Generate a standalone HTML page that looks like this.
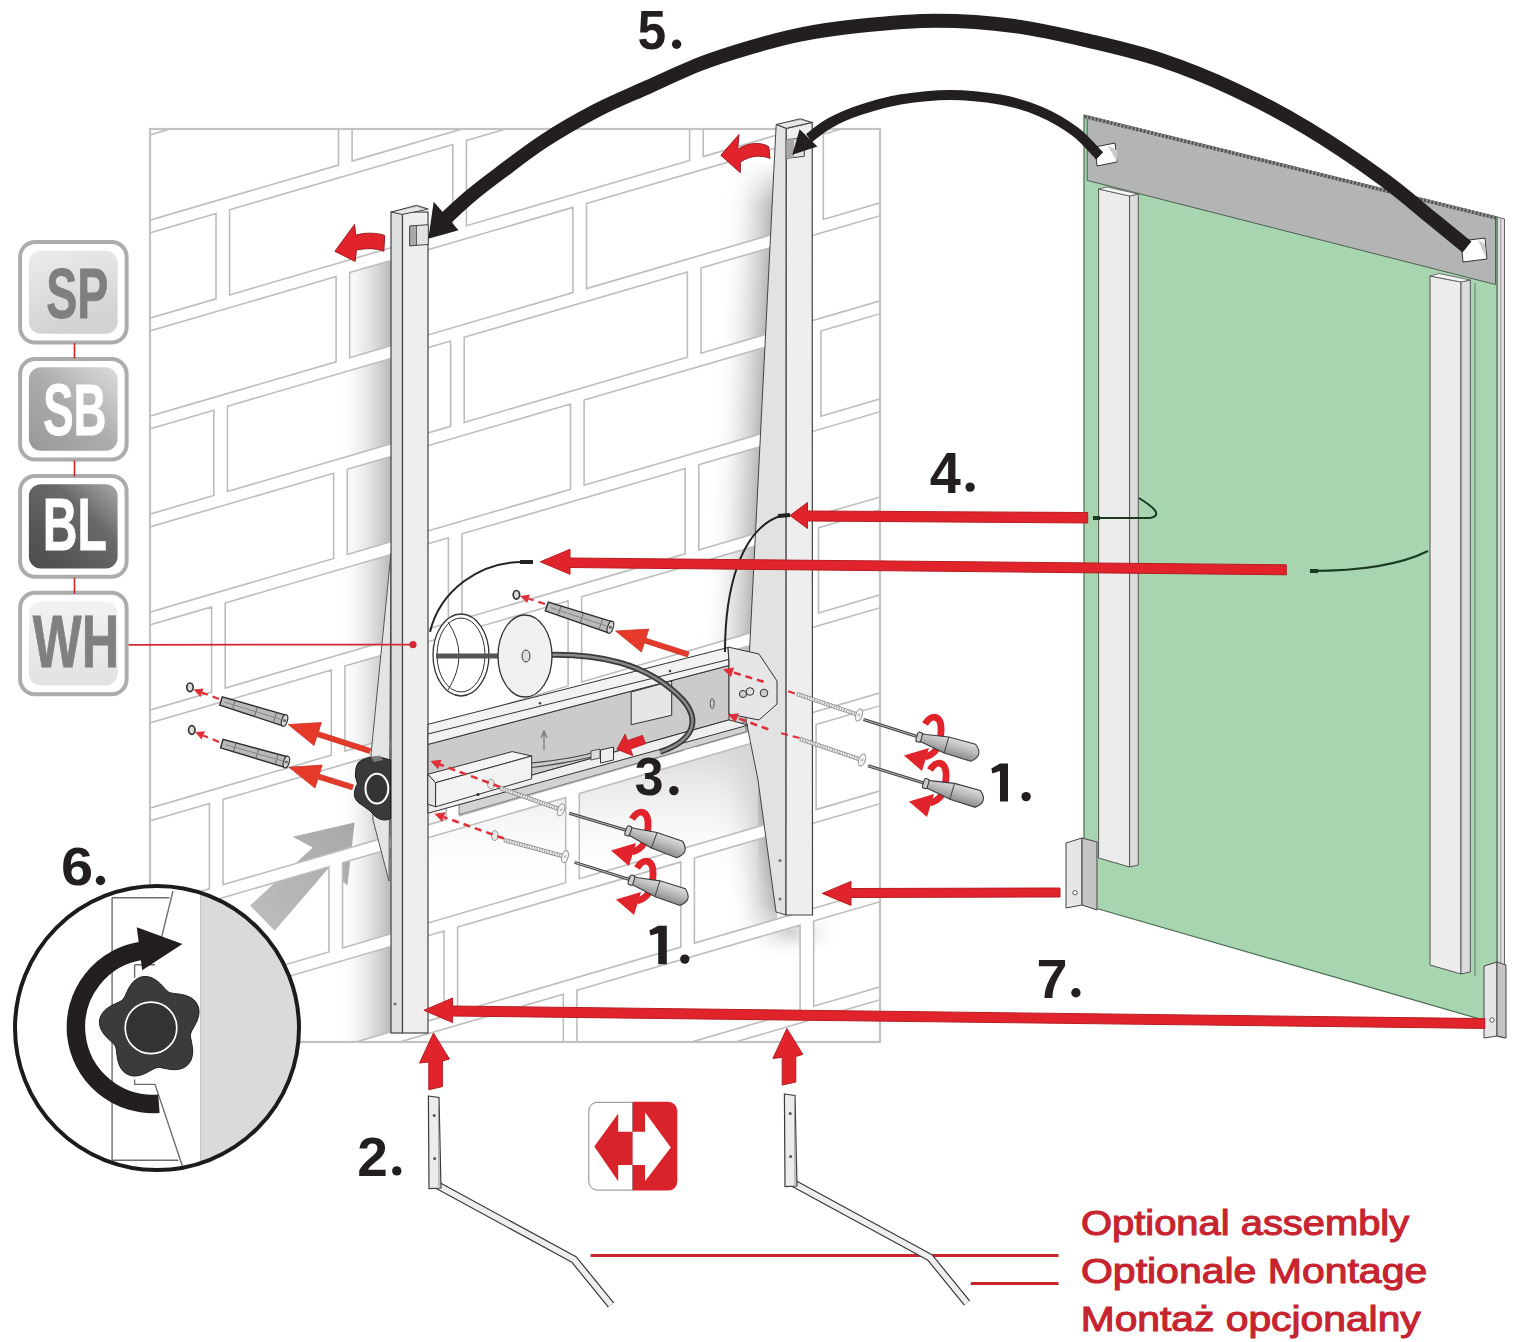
<!DOCTYPE html>
<html><head><meta charset="utf-8"><title>Assembly</title>
<style>html,body{margin:0;padding:0;background:#fff;}svg{display:block;font-family:"Liberation Sans",sans-serif;}</style>
</head><body>
<svg width="1540" height="1342" viewBox="0 0 1540 1342">
<defs><clipPath id="wallclip"><rect x="150" y="129" width="730" height="913"/></clipPath>
<clipPath id="brickclip"><path d="M117.7 -51.7L340.9 -116.8L340.9 -31.6L117.7 33.5ZM354.5 -120.8L577.7 -186.0L577.7 -100.8L354.5 -35.6ZM591.3 -190.0L814.5 -255.1L814.5 -169.9L591.3 -104.8ZM828.1 -259.1L1051.3 -324.3L1051.3 -239.1L828.1 -173.9ZM-5.0 82.2L218.2 17.0L218.2 102.2L-5.0 167.4ZM231.8 13.0L455.0 -52.2L455.0 33.0L231.8 98.2ZM468.6 -56.1L691.8 -121.3L691.8 -36.1L468.6 29.1ZM705.4 -125.3L928.6 -190.5L928.6 -105.3L705.4 -40.1ZM115.3 145.0L338.5 79.9L338.5 165.1L115.3 230.2ZM352.1 75.9L575.3 10.7L575.3 95.9L352.1 161.1ZM588.9 6.7L812.1 -58.4L812.1 26.8L588.9 91.9ZM825.7 -62.4L1048.9 -127.6L1048.9 -42.4L825.7 22.8ZM-7.2 278.8L216.0 213.6L216.0 298.8L-7.2 364.0ZM229.6 209.7L452.8 144.5L452.8 229.7L229.6 294.9ZM466.4 140.5L689.6 75.3L689.6 160.5L466.4 225.7ZM703.2 71.4L926.4 6.2L926.4 91.4L703.2 156.6ZM112.9 341.7L336.1 276.6L336.1 361.8L112.9 426.9ZM349.7 272.6L572.9 207.4L572.9 292.6L349.7 357.8ZM586.5 203.4L809.7 138.3L809.7 223.5L586.5 288.6ZM823.3 134.3L1046.5 69.1L1046.5 154.3L823.3 219.5ZM-9.4 475.4L213.8 410.3L213.8 495.5L-9.4 560.6ZM227.4 406.3L450.6 341.1L450.6 426.3L227.4 491.5ZM464.2 337.2L687.4 272.0L687.4 357.2L464.2 422.4ZM701.0 268.0L924.2 202.8L924.2 288.0L701.0 353.2ZM110.5 538.4L333.7 473.3L333.7 558.5L110.5 623.6ZM347.3 469.3L570.5 404.1L570.5 489.3L347.3 554.5ZM584.1 400.1L807.3 335.0L807.3 420.2L584.1 485.3ZM820.9 331.0L1044.1 265.8L1044.1 351.0L820.9 416.2ZM-11.6 672.1L211.6 606.9L211.6 692.1L-11.6 757.3ZM225.2 602.9L448.4 537.8L448.4 623.0L225.2 688.1ZM462.0 533.8L685.2 468.6L685.2 553.8L462.0 619.0ZM698.8 464.7L922.0 399.5L922.0 484.7L698.8 549.9ZM108.1 735.1L331.3 670.0L331.3 755.2L108.1 820.3ZM344.9 666.0L568.1 600.8L568.1 686.0L344.9 751.2ZM581.7 596.8L804.9 531.7L804.9 616.9L581.7 682.0ZM818.5 527.7L1041.7 462.5L1041.7 547.7L818.5 612.9ZM-13.8 868.7L209.4 803.6L209.4 888.8L-13.8 953.9ZM223.0 799.6L446.2 734.4L446.2 819.6L223.0 884.8ZM459.8 730.4L683.0 665.3L683.0 750.5L459.8 815.6ZM696.6 661.3L919.8 596.1L919.8 681.3L696.6 746.5ZM105.7 931.8L328.9 866.7L328.9 951.9L105.7 1017.0ZM342.5 862.7L565.7 797.5L565.7 882.7L342.5 947.9ZM579.3 793.5L802.5 728.4L802.5 813.6L579.3 878.7ZM816.1 724.4L1039.3 659.2L1039.3 744.4L816.1 809.6ZM-16.0 1065.4L207.2 1000.2L207.2 1085.4L-16.0 1150.6ZM220.8 996.2L444.0 931.1L444.0 1016.3L220.8 1081.4ZM457.6 927.1L680.8 861.9L680.8 947.1L457.6 1012.3ZM694.4 857.9L917.6 792.8L917.6 878.0L694.4 943.1ZM103.3 1128.5L326.5 1063.4L326.5 1148.6L103.3 1213.7ZM340.1 1059.4L563.3 994.2L563.3 1079.4L340.1 1144.6ZM576.9 990.2L800.1 925.1L800.1 1010.3L576.9 1075.4ZM813.7 921.1L1036.9 855.9L1036.9 941.1L813.7 1006.3ZM-18.2 1262.0L205.0 1196.8L205.0 1282.0L-18.2 1347.2ZM218.6 1192.9L441.8 1127.7L441.8 1212.9L218.6 1278.1ZM455.4 1123.7L678.6 1058.5L678.6 1143.7L455.4 1208.9ZM692.2 1054.6L915.4 989.4L915.4 1074.6L692.2 1139.8ZM100.9 1325.2L324.1 1260.1L324.1 1345.3L100.9 1410.4ZM337.7 1256.1L560.9 1190.9L560.9 1276.1L337.7 1341.3ZM574.5 1186.9L797.7 1121.8L797.7 1207.0L574.5 1272.1ZM811.3 1117.8L1034.5 1052.6L1034.5 1137.8L811.3 1203.0Z"/></clipPath>
<linearGradient id="shL" x1="0" x2="1" y1="0" y2="0"><stop offset="0" stop-color="#fff" stop-opacity="0"/><stop offset="0.35" stop-color="#f0f0f0" stop-opacity="0.6"/><stop offset="1" stop-color="#b4b4b4"/></linearGradient>
<linearGradient id="gR1" gradientUnits="userSpaceOnUse" x1="732" y1="0" x2="782.5" y2="0" gradientTransform="skewX(-2.9)"><stop offset="0" stop-color="#fff" stop-opacity="0"/><stop offset="0.4" stop-color="#eeeeee" stop-opacity="0.6"/><stop offset="1" stop-color="#b8b8b8"/></linearGradient>
<linearGradient id="gR2" gradientUnits="userSpaceOnUse" x1="585" y1="0" x2="633.7" y2="0" gradientTransform="skewX(8.87)"><stop offset="0" stop-color="#fff" stop-opacity="0"/><stop offset="0.4" stop-color="#eeeeee" stop-opacity="0.6"/><stop offset="1" stop-color="#b8b8b8"/></linearGradient>
<linearGradient id="gMR" gradientUnits="userSpaceOnUse" x1="0" y1="160" x2="0" y2="205"><stop offset="0" stop-color="#000"/><stop offset="1" stop-color="#fff"/></linearGradient>
<mask id="mR" maskUnits="userSpaceOnUse" x="600" y="100" width="300" height="900"><rect x="600" y="100" width="300" height="900" fill="url(#gMR)"/></mask>
<radialGradient id="gRad"><stop offset="0" stop-color="#d0d0d0"/><stop offset="1" stop-color="#fff" stop-opacity="0"/></radialGradient>
<linearGradient id="shD" x1="0" x2="0" y1="0" y2="1"><stop offset="0" stop-color="#d4d4d4"/><stop offset="1" stop-color="#fff" stop-opacity="0"/></linearGradient>
<linearGradient id="hdl" x1="0" x2="0" y1="0" y2="1"><stop offset="0" stop-color="#dedede"/><stop offset="0.5" stop-color="#b9b9b9"/><stop offset="1" stop-color="#8c8c8c"/></linearGradient>
<linearGradient id="gSP" x1="0" y1="0" x2="0.3" y2="1"><stop offset="0" stop-color="#ececec"/><stop offset="1" stop-color="#d2d2d2"/></linearGradient>
<linearGradient id="gSB" x1="1" y1="0" x2="0" y2="1"><stop offset="0" stop-color="#dcdcdc"/><stop offset="0.5" stop-color="#acacac"/><stop offset="1" stop-color="#989898"/></linearGradient>
<linearGradient id="gBL" x1="1" y1="0" x2="0" y2="1"><stop offset="0" stop-color="#a8a8a8"/><stop offset="0.35" stop-color="#6a6a6a"/><stop offset="1" stop-color="#4a4a4a"/></linearGradient>
<linearGradient id="gWH" x1="0" y1="0" x2="0" y2="1"><stop offset="0" stop-color="#f2f2f2"/><stop offset="1" stop-color="#e2e2e2"/></linearGradient>
<clipPath id="cc"><circle cx="157" cy="1028" r="142"/></clipPath>
<linearGradient id="gA" x1="0" y1="1" x2="1" y2="0"><stop offset="0" stop-color="#bebebe"/><stop offset="1" stop-color="#a8a8a8"/></linearGradient></defs>
<rect width="1540" height="1342" fill="#fff"/>
<rect x="150" y="129" width="730" height="913" fill="#fff"/>
<g clip-path="url(#wallclip)"><g clip-path="url(#brickclip)">
<rect x="335" y="258" width="58" height="790" fill="url(#shL)"/>
<path d="M700 158H779L747 720H690Z" fill="url(#gR1)" mask="url(#mR)"/><path d="M690 720H747L758 780L777 912V919L726 933H690Z" fill="url(#gR2)"/>
<rect x="428" y="740" width="330" height="150" fill="url(#shD)"/>
<ellipse cx="790" cy="932" rx="55" ry="28" fill="url(#gRad)"/>
<path d="M250.1 905.6L312.7 847.5L292.6 836.8L354.6 822.4L347.4 886L329.5 867L274.7 930.8Z" fill="url(#gA)"/>
</g>
<path d="M117.7 -51.7L340.9 -116.8L340.9 -31.6L117.7 33.5ZM354.5 -120.8L577.7 -186.0L577.7 -100.8L354.5 -35.6ZM591.3 -190.0L814.5 -255.1L814.5 -169.9L591.3 -104.8ZM828.1 -259.1L1051.3 -324.3L1051.3 -239.1L828.1 -173.9ZM-5.0 82.2L218.2 17.0L218.2 102.2L-5.0 167.4ZM231.8 13.0L455.0 -52.2L455.0 33.0L231.8 98.2ZM468.6 -56.1L691.8 -121.3L691.8 -36.1L468.6 29.1ZM705.4 -125.3L928.6 -190.5L928.6 -105.3L705.4 -40.1ZM115.3 145.0L338.5 79.9L338.5 165.1L115.3 230.2ZM352.1 75.9L575.3 10.7L575.3 95.9L352.1 161.1ZM588.9 6.7L812.1 -58.4L812.1 26.8L588.9 91.9ZM825.7 -62.4L1048.9 -127.6L1048.9 -42.4L825.7 22.8ZM-7.2 278.8L216.0 213.6L216.0 298.8L-7.2 364.0ZM229.6 209.7L452.8 144.5L452.8 229.7L229.6 294.9ZM466.4 140.5L689.6 75.3L689.6 160.5L466.4 225.7ZM703.2 71.4L926.4 6.2L926.4 91.4L703.2 156.6ZM112.9 341.7L336.1 276.6L336.1 361.8L112.9 426.9ZM349.7 272.6L572.9 207.4L572.9 292.6L349.7 357.8ZM586.5 203.4L809.7 138.3L809.7 223.5L586.5 288.6ZM823.3 134.3L1046.5 69.1L1046.5 154.3L823.3 219.5ZM-9.4 475.4L213.8 410.3L213.8 495.5L-9.4 560.6ZM227.4 406.3L450.6 341.1L450.6 426.3L227.4 491.5ZM464.2 337.2L687.4 272.0L687.4 357.2L464.2 422.4ZM701.0 268.0L924.2 202.8L924.2 288.0L701.0 353.2ZM110.5 538.4L333.7 473.3L333.7 558.5L110.5 623.6ZM347.3 469.3L570.5 404.1L570.5 489.3L347.3 554.5ZM584.1 400.1L807.3 335.0L807.3 420.2L584.1 485.3ZM820.9 331.0L1044.1 265.8L1044.1 351.0L820.9 416.2ZM-11.6 672.1L211.6 606.9L211.6 692.1L-11.6 757.3ZM225.2 602.9L448.4 537.8L448.4 623.0L225.2 688.1ZM462.0 533.8L685.2 468.6L685.2 553.8L462.0 619.0ZM698.8 464.7L922.0 399.5L922.0 484.7L698.8 549.9ZM108.1 735.1L331.3 670.0L331.3 755.2L108.1 820.3ZM344.9 666.0L568.1 600.8L568.1 686.0L344.9 751.2ZM581.7 596.8L804.9 531.7L804.9 616.9L581.7 682.0ZM818.5 527.7L1041.7 462.5L1041.7 547.7L818.5 612.9ZM-13.8 868.7L209.4 803.6L209.4 888.8L-13.8 953.9ZM223.0 799.6L446.2 734.4L446.2 819.6L223.0 884.8ZM459.8 730.4L683.0 665.3L683.0 750.5L459.8 815.6ZM696.6 661.3L919.8 596.1L919.8 681.3L696.6 746.5ZM105.7 931.8L328.9 866.7L328.9 951.9L105.7 1017.0ZM342.5 862.7L565.7 797.5L565.7 882.7L342.5 947.9ZM579.3 793.5L802.5 728.4L802.5 813.6L579.3 878.7ZM816.1 724.4L1039.3 659.2L1039.3 744.4L816.1 809.6ZM-16.0 1065.4L207.2 1000.2L207.2 1085.4L-16.0 1150.6ZM220.8 996.2L444.0 931.1L444.0 1016.3L220.8 1081.4ZM457.6 927.1L680.8 861.9L680.8 947.1L457.6 1012.3ZM694.4 857.9L917.6 792.8L917.6 878.0L694.4 943.1ZM103.3 1128.5L326.5 1063.4L326.5 1148.6L103.3 1213.7ZM340.1 1059.4L563.3 994.2L563.3 1079.4L340.1 1144.6ZM576.9 990.2L800.1 925.1L800.1 1010.3L576.9 1075.4ZM813.7 921.1L1036.9 855.9L1036.9 941.1L813.7 1006.3ZM-18.2 1262.0L205.0 1196.8L205.0 1282.0L-18.2 1347.2ZM218.6 1192.9L441.8 1127.7L441.8 1212.9L218.6 1278.1ZM455.4 1123.7L678.6 1058.5L678.6 1143.7L455.4 1208.9ZM692.2 1054.6L915.4 989.4L915.4 1074.6L692.2 1139.8ZM100.9 1325.2L324.1 1260.1L324.1 1345.3L100.9 1410.4ZM337.7 1256.1L560.9 1190.9L560.9 1276.1L337.7 1341.3ZM574.5 1186.9L797.7 1121.8L797.7 1207.0L574.5 1272.1ZM811.3 1117.8L1034.5 1052.6L1034.5 1137.8L811.3 1203.0Z" fill="none" stroke="#bdbdbd" stroke-width="1.6"/>
</g>
<rect x="150" y="129" width="730" height="913" fill="none" stroke="#c2c2c2" stroke-width="2.2"/>
<path d="M391 553L371 754L373 820L389 881Z" fill="#e4e4e4" stroke="#555" stroke-width="1"/>
<rect x="391" y="212" width="11.5" height="821" fill="#dedfdf" stroke="#444" stroke-width="1.2"/>
<rect x="402.5" y="212" width="25.5" height="821" fill="#eeeeee" stroke="#444" stroke-width="1.2"/>
<path d="M391.2 212L416.5 205.3L428.3 209L402.1 214.5Z" fill="#bdbdbd" stroke="#444" stroke-width="1"/>
<path d="M395 212L416.5 207L424 209.5L402.1 213.5Z" fill="#e8e8e8"/>
<path d="M409.7 226L428.3 224.7L428.3 244.5L409.7 245.8Z" fill="#e2e2e2" stroke="#444" stroke-width="1"/>
<path d="M409.7 226L416.5 225.5L416.5 245.3L409.7 245.8Z" fill="#a9a9a9" stroke="#444" stroke-width="0.8"/>
<circle cx="395" cy="1004" r="1.6" fill="#777"/>
<path d="M786.3 128.4L776.2 124.5L746 720L758 780L776 912L786 915Z" fill="#e2e2e2" stroke="#444" stroke-width="1"/>
<path d="M786.3 128.4L812.2 122.4L812.5 915L786 915Z" fill="#eeeeee" stroke="#444" stroke-width="1.2"/>
<path d="M776.2 124.5L800.2 118.8L812.2 122.4L786.3 128.4Z" fill="#bdbdbd" stroke="#444" stroke-width="1"/>
<path d="M779.5 124.5L800.2 120.3L808 122.6L786.3 127.2Z" fill="#e8e8e8"/>
<path d="M786.3 139.6L804.3 138L804.3 156.3L786.3 158.4Z" fill="#e2e2e2" stroke="#444" stroke-width="1"/>
<path d="M786.3 139.6L794 139L794 157.5L786.3 158.4Z" fill="#a9a9a9"/>
<circle cx="780" cy="860.6" r="1.6" fill="#777"/><circle cx="780" cy="899" r="1.6" fill="#777"/>
<path d="M459.0 804.7L746.0 721.8L746.0 731.8L459.0 814.7Z" fill="#d2d2d2" stroke="#666" stroke-width="0.8"/>
<path d="M428.0 744.4L729.0 665.5L729.0 719.9L428.0 804.2Z" fill="#cbcbcb" stroke="#333" stroke-width="1"/>
<path d="M428.0 724.3L728.0 647.5L729.0 665.5L428.0 744.4Z" fill="#f2f2f2" stroke="#333" stroke-width="1"/>
<path d="M428.0 734.0L729.0 659.4" stroke="#333" stroke-width="1"/>
<path d="M428.0 804.2L729.0 719.9L748.0 725.2L428.0 813.2Z" fill="#efefef" stroke="#333" stroke-width="1"/>
<path d="M631.2 692L671.7 681L671.7 715.3L631.2 724.7Z" fill="#e6e6e6" stroke="#333" stroke-width="1"/>
<circle cx="540" cy="703.2" r="1.3" fill="#444"/><circle cx="670" cy="671.0" r="1.3" fill="#444"/>
<path d="M728 647L759 654L777 681L777 704L759 720L729 714L729 661Z" fill="#e6e6e6" stroke="#333" stroke-width="1"/>
<circle cx="743" cy="694" r="3.6" fill="#ccc" stroke="#333"/><circle cx="750" cy="691.5" r="3.8" fill="#ddd" stroke="#333"/><circle cx="764" cy="693" r="3.8" fill="#ccc" stroke="#333"/>
<ellipse cx="712.2" cy="703.6" rx="2" ry="5" fill="none" stroke="#555"/>
<path d="M427.8 774.3L512.2 751.6L531.7 756L435.6 782.7Z" fill="#f4f4f4" stroke="#333" stroke-width="1"/>
<path d="M427.8 774.3L435.6 782.7L435.6 806.8L427.8 804.2Z" fill="#e4e4e4" stroke="#333" stroke-width="1"/>
<path d="M435.6 782.7L531.7 756L531.7 778.8L435.6 806.8Z" fill="#f2f2f2" stroke="#333" stroke-width="1"/>
<circle cx="478" cy="794.5" r="1.6" fill="#333"/>
<path d="M600.5 750L613.5 747L613.5 760L600.5 763Z" fill="#eee" stroke="#333"/>
<path d="M591 751L600 749L600 758L591 760Z" fill="#ddd" stroke="#333" stroke-width="0.8"/>
<path d="M531.7 763C560 760 575 758 591 753M531.7 767.5C560 764 575 761 591 757" stroke="#444" stroke-width="1.2" fill="none"/>
<path d="M541 738L544 731L547 738M544 731L544 750" stroke="#777" stroke-width="1.2" fill="none"/>
<path d="M525 656C600 650 650 665 683 700C700 720 695 740 660 752" stroke="#3a3a3a" stroke-width="6" fill="none"/>
<path d="M525 656C600 650 650 665 683 700C700 720 695 740 660 752" stroke="#8a8a8a" stroke-width="2.4" fill="none"/>
<ellipse cx="461" cy="655" rx="28" ry="41" fill="#fff" stroke="#333" stroke-width="1.3"/>
<ellipse cx="461" cy="655" rx="24" ry="37" fill="none" stroke="#333" stroke-width="1"/>
<path d="M448 622Q470 655 448 690" fill="none" stroke="#333" stroke-width="1"/>
<path d="M436 656L500 656" stroke="#555" stroke-width="5"/>
<ellipse cx="525" cy="656" rx="27" ry="41" fill="#f0f0f0" stroke="#333" stroke-width="1.3"/>
<ellipse cx="526" cy="656" rx="4" ry="6" fill="#ddd" stroke="#333"/>
<path d="M430 632C440 590 480 562 522 562" stroke="#222" stroke-width="2" fill="none"/>
<path d="M520 562L533 562" stroke="#222" stroke-width="4"/>
<path d="M725 652C725 590 740 530 780 516" stroke="#222" stroke-width="2" fill="none"/>
<path d="M778 516L790 515" stroke="#222" stroke-width="4"/>
<path d="M1497 217L1504.5 219L1504.5 1038L1497 1036Z" fill="#dedede" stroke="#666" stroke-width="1"/>
<path d="M1500.8 218L1500.8 1037" stroke="#888" stroke-width="0.8"/>
<path d="M1084 115L1497 217L1497 1024L1095 908L1084 905Z" fill="#a6d5b0" stroke="#4b6b52" stroke-width="1.2"/>
<path d="M1087.2 116L1495.5 217L1495.5 284.5L1087.2 180.4Z" fill="#b3b4b4" stroke="#4f5f52" stroke-width="1"/>
<path d="M1084.5 116.5L1496 218" stroke="#9a9a9a" stroke-width="3.4"/>
<path d="M1084.5 116.5L1496 218" stroke="#555" stroke-width="3.4" stroke-dasharray="2.2 1.6"/>
<path d="M1095 147L1115 143L1117 162L1097 166Z" fill="#fff" stroke="#333" stroke-width="1"/>
<path d="M1461 241L1485 238L1487 259L1463 262Z" fill="#fff" stroke="#333" stroke-width="1"/>
<path d="M1108 146L1117 150L1117 162Z" fill="#ccc"/><path d="M1478 240L1485 244L1486 258Z" fill="#ccc"/>
<path d="M1098.6 189L1129.6 196L1129.6 867L1098.6 858Z" fill="#ececec" stroke="#555" stroke-width="1"/>
<path d="M1129.6 196L1138.3 194L1138.3 865L1129.6 867Z" fill="#dcdcdc" stroke="#555" stroke-width="1"/>
<path d="M1098.6 189L1107 187L1138.3 194L1129.6 196Z" fill="#f6f6f6" stroke="#555" stroke-width="0.8"/>
<path d="M1430 276L1461 282L1461 974L1430 965Z" fill="#ececec" stroke="#555" stroke-width="1"/>
<path d="M1461 282L1470.3 280L1470.3 972L1461 974Z" fill="#dcdcdc" stroke="#555" stroke-width="1"/>
<path d="M1430 276L1439 273.5L1470.3 280L1461 282Z" fill="#f6f6f6" stroke="#555" stroke-width="0.8"/>
<path d="M1475 283L1475 976" stroke="#777" stroke-width="1"/>
<path d="M1066 843L1082 838L1082 905L1066 908Z" fill="#e6e6e6" stroke="#444" stroke-width="1"/>
<path d="M1082 838L1097 842L1097 910L1082 905Z" fill="#c4c4c4" stroke="#444" stroke-width="1"/>
<circle cx="1075" cy="892.7" r="2.2" fill="#fff" stroke="#333" stroke-width="0.8"/>
<path d="M1484 966L1497 962L1497 1036L1484 1038Z" fill="#e6e6e6" stroke="#444" stroke-width="1"/>
<path d="M1497 962L1506 965L1506 1038L1497 1036Z" fill="#c4c4c4" stroke="#444" stroke-width="1"/>
<circle cx="1492" cy="1020" r="2.2" fill="#fff" stroke="#333" stroke-width="0.8"/>
<path d="M1093 518L1150 518C1165 515 1150 505 1139 498" stroke="#1a3a22" stroke-width="2" fill="none"/>
<path d="M1093 518L1100 518" stroke="#1a3a22" stroke-width="4"/>
<path d="M1310 571C1360 571 1400 565 1428 551" stroke="#1a3a22" stroke-width="2" fill="none"/>
<path d="M1310 571L1318 571" stroke="#1a3a22" stroke-width="4"/>
<path d="M790.0 515.5L807.5 502.5L807.5 511.0L1087.7 512.5L1087.7 523.0L807.5 521.0L807.5 528.5Z" fill="#e1242b" stroke="#b51d23" stroke-width="1" stroke-linejoin="miter"/>
<path d="M540.3 561.8L570.0 549.3L570.0 558.0L1286.3 564.8L1286.3 574.8L570.0 567.5L570.0 574.3Z" fill="#e1242b" stroke="#b51d23" stroke-width="1" stroke-linejoin="miter"/>
<path d="M822.3 893.4L851.0 881.4L851.0 888.5L1060.0 888.0L1060.0 897.0L851.0 897.5L851.0 905.4Z" fill="#e1242b" stroke="#b51d23" stroke-width="1" stroke-linejoin="miter"/>
<path d="M423.9 1010.3L452.6 998.0L452.6 1006.0L1484.8 1018.6L1484.8 1028.4L452.6 1016.0L452.6 1022.6Z" fill="#e1242b" stroke="#b51d23" stroke-width="1" stroke-linejoin="miter"/>
<path d="M433.5 1033.0L449.4 1059.0L442.4 1061.0L442.4 1086.6L428.8 1089.7L428.8 1062.0L419.5 1063.0Z" fill="#e1242b" stroke="#b51d23" stroke-width="1"/>
<path d="M786.9 1028.4L802.8 1054.4L795.8 1056.4L795.8 1082.0L782.2 1085.1L782.2 1057.4L772.9 1058.4Z" fill="#e1242b" stroke="#b51d23" stroke-width="1"/>
<path d="M1467.0 247.0C1461.0 242.1 1445.2 229.1 1431.0 217.6C1416.8 206.1 1402.5 193.0 1382.0 178.2C1361.5 163.4 1332.7 143.6 1308.0 128.8C1283.3 114.0 1258.7 100.8 1234.0 89.3C1209.3 77.8 1183.7 67.7 1160.0 59.7C1136.3 51.8 1116.3 47.2 1092.0 41.6C1067.7 36.0 1040.0 29.5 1014.0 26.0C988.0 22.5 962.0 20.8 936.0 20.8C910.0 20.8 880.7 23.7 858.0 26.0C835.3 28.3 818.0 31.0 800.0 34.6C782.0 38.2 766.7 42.6 750.0 47.5C733.3 52.4 717.0 57.4 700.0 64.0C683.0 70.6 665.3 79.2 648.0 87.0C630.7 94.8 613.3 101.8 596.0 110.8C578.7 119.8 560.0 130.6 544.0 141.0C528.0 151.4 512.3 163.8 500.0 173.0C487.7 182.2 479.1 188.7 470.0 196.3C460.9 203.9 449.6 214.8 445.5 218.5" fill="none" stroke="#231f20" stroke-width="14"/>
<path d="M428.3 238.8L433.7 201.7L458.6 230.3Z" fill="#231f20"/>
<path d="M1099.6 155.8C1095.5 151.8 1084.9 138.9 1075.0 131.5C1065.1 124.1 1052.5 116.6 1040.0 111.3C1027.5 106.0 1015.0 102.2 1000.0 99.5C985.0 96.8 966.7 94.9 950.0 94.9C933.3 94.9 915.0 97.0 900.0 99.5C885.0 102.0 871.7 106.2 860.0 110.1C848.3 114.0 838.5 118.3 830.0 123.0C821.5 127.7 812.5 135.5 809.0 138.0" fill="none" stroke="#231f20" stroke-width="10"/>
<path d="M792.3 154.8L799.6 129.2L817.4 146.4Z" fill="#231f20"/>
<path d="M384.7 235.5C378 233 366 232 355.8 235.2L354.6 224.4L334.9 251.3L355.2 261.4L356.4 250.1C366 248 376 248 383.8 251.3Z" fill="#e3232b" stroke="#9c1b1f" stroke-width="1"/>
<path d="M768.8 146.8C762 142 748 142 737.7 149.4L739 134.5L720.8 155.3L740.3 172.7L740.3 162.3C750 155 762 155 770 158.4Z" fill="#e3232b" stroke="#9c1b1f" stroke-width="1"/>
<ellipse cx="190.0" cy="687.3" rx="3.2" ry="4.3" fill="#ddd" stroke="#333" stroke-width="1.7"/>
<ellipse cx="191.8" cy="730.0" rx="3.2" ry="4.3" fill="#ddd" stroke="#333" stroke-width="1.7"/>
<ellipse cx="516.4" cy="594.8" rx="3.2" ry="4.3" fill="#ddd" stroke="#333" stroke-width="1.7"/>
<path d="M219.0 699.0L201.9 692.6" stroke="#e0303a" stroke-width="2.2" stroke-dasharray="7 5" fill="none"/><path d="M193.5 689.5L203.5 688.4L200.4 696.9Z" fill="#e0303a"/>
<path d="M219.0 742.0L203.3 735.5" stroke="#e0303a" stroke-width="2.2" stroke-dasharray="7 5" fill="none"/><path d="M195.0 732.0L205.0 731.3L201.6 739.6Z" fill="#e0303a"/>
<path d="M545.0 604.0L528.6 598.7" stroke="#e0303a" stroke-width="2.2" stroke-dasharray="7 5" fill="none"/><path d="M520.0 596.0L529.9 594.5L527.2 603.0Z" fill="#e0303a"/>
<path d="M219.7 705.2L282.9 725.8L286.1 715.2L222.3 696.8Z" fill="#b9b9b9" stroke="#2a2a2a" stroke-width="1.4"/><path d="M232.1 710.2L235.3 699.6" stroke="#555" stroke-width="0.8"/><path d="M254.3 717.0L257.5 706.5" stroke="#555" stroke-width="0.8"/><path d="M273.4 722.8L276.6 712.3" stroke="#555" stroke-width="0.8"/><path d="M224.8 702.2L280.7 719.3" stroke="#888" stroke-width="1"/><ellipse cx="284.5" cy="720.5" rx="2.8" ry="6.0" transform="rotate(17.1 284.5 720.5)" fill="#d8d8d8" stroke="#333" stroke-width="1.2"/><circle cx="284.5" cy="720.5" r="1.5" fill="#666"/>
<path d="M220.6 747.8L284.9 767.3L287.9 756.7L223.0 739.4Z" fill="#b9b9b9" stroke="#2a2a2a" stroke-width="1.4"/><path d="M233.2 752.6L236.2 742.0" stroke="#555" stroke-width="0.8"/><path d="M255.8 759.0L258.8 748.4" stroke="#555" stroke-width="0.8"/><path d="M275.2 764.5L278.2 754.0" stroke="#555" stroke-width="0.8"/><path d="M225.6 744.7L282.6 760.9" stroke="#888" stroke-width="1"/><ellipse cx="286.4" cy="762.0" rx="2.8" ry="6.0" transform="rotate(15.9 286.4 762.0)" fill="#d8d8d8" stroke="#333" stroke-width="1.2"/><circle cx="286.4" cy="762.0" r="1.5" fill="#666"/>
<path d="M545.3 610.9L608.6 632.9L612.2 621.7L548.3 602.1Z" fill="#b9b9b9" stroke="#2a2a2a" stroke-width="1.4"/><path d="M557.7 616.2L561.3 605.1" stroke="#555" stroke-width="0.8"/><path d="M580.0 623.5L583.6 612.4" stroke="#555" stroke-width="0.8"/><path d="M599.0 629.7L602.7 618.6" stroke="#555" stroke-width="0.8"/><path d="M550.6 607.7L606.6 626.1" stroke="#888" stroke-width="1"/><ellipse cx="610.4" cy="627.3" rx="2.8" ry="6.3" transform="rotate(18.1 610.4 627.3)" fill="#d8d8d8" stroke="#333" stroke-width="1.2"/><circle cx="610.4" cy="627.3" r="1.5" fill="#666"/>
<path d="M370.8 748.6L318.5 731.7L321.4 722.6L288.2 724.5L314.0 745.5L316.9 736.4L369.2 753.4Z" fill="#e53a2a" stroke="#c8352a" stroke-width="0.8" />
<path d="M353.4 784.9L319.3 774.2L322.2 765.1L289.0 767.3L315.0 788.0L317.8 779.0L352.0 789.7Z" fill="#e53a2a" stroke="#c8352a" stroke-width="0.8" />
<path d="M689.1 652.1L645.9 638.2L648.8 629.1L615.6 631.0L641.4 652.0L644.3 642.9L687.5 656.9Z" fill="#e53a2a" stroke="#c8352a" stroke-width="0.8" />
<path d="M362 760Q374 754 390.6 760L390.6 818.7Q383 822 376 817Q370 810 362 805Q353 800 354.5 792Q355 787 357.5 784Q354 776 356 768Q357 762 362 760Z" fill="#3a3a3c" stroke="#1e1e1e" stroke-width="1"/>
<path d="M371 757.5L380 755.5L383 760L374 762Z" fill="#7a7a7a"/>
<ellipse cx="376.9" cy="788.6" rx="11.4" ry="14.8" fill="#343436" stroke="#fff" stroke-width="2"/>
<path d="M797.0 694.0L859.0 715.0" stroke="#8a8a8a" stroke-width="4.4"/><path d="M797.0 694.0L859.0 715.0" stroke="#f2f2f2" stroke-width="2.6"/><path d="M797.0 694.0L859.0 715.0" stroke="#999" stroke-width="2.6" stroke-dasharray="1 1.6"/><ellipse cx="859.0" cy="715.0" rx="3.2" ry="6.2" transform="rotate(18.7 859.0 715.0)" fill="#f4f4f4" stroke="#999" stroke-width="1.1"/><path d="M857.5 716.5l3 -3M860.0 716.0l-2 -2" stroke="#aaa" stroke-width="0.9"/>
<path d="M800.0 739.0L862.0 760.0" stroke="#8a8a8a" stroke-width="4.4"/><path d="M800.0 739.0L862.0 760.0" stroke="#f2f2f2" stroke-width="2.6"/><path d="M800.0 739.0L862.0 760.0" stroke="#999" stroke-width="2.6" stroke-dasharray="1 1.6"/><ellipse cx="862.0" cy="760.0" rx="3.2" ry="6.2" transform="rotate(18.7 862.0 760.0)" fill="#f4f4f4" stroke="#999" stroke-width="1.1"/><path d="M860.5 761.5l3 -3M863.0 761.0l-2 -2" stroke="#aaa" stroke-width="0.9"/>
<path d="M794.8 693.5L786.1 690.5" stroke="#e0303a" stroke-width="2.2" stroke-dasharray="7 5" fill="none"/><path d="M786.0 690.5L786.1 690.5L786.1 690.6Z" fill="#e0303a"/>
<path d="M799.5 738.0L780.9 733.2" stroke="#e0303a" stroke-width="2.2" stroke-dasharray="7 5" fill="none"/><path d="M780.8 733.2L780.9 733.2L780.9 733.3Z" fill="#e0303a"/>
<path d="M925.0 724.0C932.0 713.0 942.0 715.0 941.0 732.0C940.0 748.0 935.0 754.0 925.0 757.0" stroke="#e1242b" stroke-width="6.8" fill="none"/><path d="M904.0 755.5L929.0 748.0L922.0 771.0Z" fill="#e1242b"/>
<path d="M863.5 719.5L918.7 737.0" stroke="#444" stroke-width="3"/><path d="M863.5 719.5L918.7 737.0" stroke="#bbb" stroke-width="1"/><g transform="translate(918.7 737.0) rotate(16.1)"><path d="M0 -4L6.4 -4.5L28.9 -8.3L56.6 -8.8Q68.2 0 56.6 8.8L28.9 8.3L6.4 4.5L0 4Z" fill="url(#hdl)" stroke="#3a3a3a" stroke-width="1.1"/><rect x="-2" y="-5" width="5" height="10" rx="2" fill="#ccc" stroke="#333" stroke-width="1"/><path d="M28.9 -8.3L28.9 8.3" stroke="#444" stroke-width="1"/></g>
<path d="M930.0 770.0C937.0 759.0 947.0 761.0 946.0 778.0C945.0 794.0 940.0 800.0 930.0 803.0" stroke="#e1242b" stroke-width="6.8" fill="none"/><path d="M909.0 801.5L934.0 794.0L927.0 817.0Z" fill="#e1242b"/>
<path d="M868.0 765.8L925.3 783.5" stroke="#444" stroke-width="3"/><path d="M868.0 765.8L925.3 783.5" stroke="#bbb" stroke-width="1"/><g transform="translate(925.3 783.5) rotate(16.3)"><path d="M0 -4L6.2 -4.5L28.0 -8.3L54.7 -8.8Q65.9 0 54.7 8.8L28.0 8.3L6.2 4.5L0 4Z" fill="url(#hdl)" stroke="#3a3a3a" stroke-width="1.1"/><rect x="-2" y="-5" width="5" height="10" rx="2" fill="#ccc" stroke="#333" stroke-width="1"/><path d="M28.0 -8.3L28.0 8.3" stroke="#444" stroke-width="1"/></g>
<ellipse cx="490.9" cy="784" rx="3.3" ry="5" fill="#e8e8e8" stroke="#999" stroke-width="1"/><ellipse cx="494.8" cy="835.5" rx="3.3" ry="5" fill="#e8e8e8" stroke="#999" stroke-width="1"/>
<path d="M500.0 788.0L561.0 809.8" stroke="#8a8a8a" stroke-width="4.4"/><path d="M500.0 788.0L561.0 809.8" stroke="#f2f2f2" stroke-width="2.6"/><path d="M500.0 788.0L561.0 809.8" stroke="#999" stroke-width="2.6" stroke-dasharray="1 1.6"/><ellipse cx="561.0" cy="809.8" rx="3.2" ry="6.2" transform="rotate(19.7 561.0 809.8)" fill="#f4f4f4" stroke="#999" stroke-width="1.1"/><path d="M559.5 811.3l3 -3M562.0 810.8l-2 -2" stroke="#aaa" stroke-width="0.9"/>
<path d="M504.0 840.0L565.0 856.6" stroke="#8a8a8a" stroke-width="4.4"/><path d="M504.0 840.0L565.0 856.6" stroke="#f2f2f2" stroke-width="2.6"/><path d="M504.0 840.0L565.0 856.6" stroke="#999" stroke-width="2.6" stroke-dasharray="1 1.6"/><ellipse cx="565.0" cy="856.6" rx="3.2" ry="6.2" transform="rotate(15.2 565.0 856.6)" fill="#f4f4f4" stroke="#999" stroke-width="1.1"/><path d="M563.5 858.1l3 -3M566.0 857.6l-2 -2" stroke="#aaa" stroke-width="0.9"/>
<path d="M632.0 819.0C639.0 808.0 649.0 810.0 648.0 827.0C647.0 843.0 642.0 849.0 632.0 852.0" stroke="#e1242b" stroke-width="6.8" fill="none"/><path d="M611.0 850.5L636.0 843.0L629.0 866.0Z" fill="#e1242b"/>
<path d="M569.2 813.3L627.8 830.7" stroke="#444" stroke-width="3"/><path d="M569.2 813.3L627.8 830.7" stroke="#bbb" stroke-width="1"/><g transform="translate(627.8 830.7) rotate(19.9)"><path d="M0 -4L6.2 -4.5L28.1 -8.3L55.0 -8.8Q66.2 0 55.0 8.8L28.1 8.3L6.2 4.5L0 4Z" fill="url(#hdl)" stroke="#3a3a3a" stroke-width="1.1"/><rect x="-2" y="-5" width="5" height="10" rx="2" fill="#ccc" stroke="#333" stroke-width="1"/><path d="M28.1 -8.3L28.1 8.3" stroke="#444" stroke-width="1"/></g>
<path d="M637.0 868.0C644.0 857.0 654.0 859.0 653.0 876.0C652.0 892.0 647.0 898.0 637.0 901.0" stroke="#e1242b" stroke-width="6.8" fill="none"/><path d="M616.0 899.5L641.0 892.0L634.0 915.0Z" fill="#e1242b"/>
<path d="M574.6 862.4L631.0 880.0" stroke="#444" stroke-width="3"/><path d="M574.6 862.4L631.0 880.0" stroke="#bbb" stroke-width="1"/><g transform="translate(631.0 880.0) rotate(18.3)"><path d="M0 -4L6.2 -4.5L27.8 -8.3L54.3 -8.8Q65.4 0 54.3 8.8L27.8 8.3L6.2 4.5L0 4Z" fill="url(#hdl)" stroke="#3a3a3a" stroke-width="1.1"/><rect x="-2" y="-5" width="5" height="10" rx="2" fill="#ccc" stroke="#333" stroke-width="1"/><path d="M27.8 -8.3L27.8 8.3" stroke="#444" stroke-width="1"/></g>
<path d="M763.6 681.8L732.6 672.2" stroke="#e0303a" stroke-width="2.6" stroke-dasharray="7 5" fill="none"/><path d="M723.0 669.3L734.0 667.5L731.1 677.0Z" fill="#e0303a"/>
<path d="M768.3 729.3L737.2 717.9" stroke="#e0303a" stroke-width="2.6" stroke-dasharray="7 5" fill="none"/><path d="M727.8 714.5L738.9 713.2L735.5 722.6Z" fill="#e0303a"/>
<path d="M500.0 787.0L439.9 764.5" stroke="#e0303a" stroke-width="2.6" stroke-dasharray="7 5" fill="none"/><path d="M430.5 761.0L441.6 759.8L438.1 769.2Z" fill="#e0303a"/>
<path d="M504.0 838.5L443.8 817.1" stroke="#e0303a" stroke-width="2.6" stroke-dasharray="7 5" fill="none"/><path d="M434.4 813.7L445.5 812.3L442.1 821.8Z" fill="#e0303a"/>
<path d="M642.5 735.3L627.5 740.7L625.1 734.1L616.8 749.3L632.9 755.7L630.6 749.1L645.5 743.7Z" fill="#e1242b" stroke="#b51d23" stroke-width="0.8" />
<rect x="20.1" y="241.9" width="106.5" height="100.7" rx="15" fill="#fff" stroke="#acacac" stroke-width="4"/>
<rect x="28.9" y="250.7" width="88.7" height="83.1" rx="12" fill="url(#gSP)"/>
<text transform="translate(46.25 317.97) scale(0.663 1)" font-family="Liberation Sans" font-weight="bold" font-size="70.16" fill="#7f7f7f" stroke="#7f7f7f" stroke-width="0.8">SP</text>
<rect x="20.1" y="358.9" width="106.5" height="100.7" rx="15" fill="#fff" stroke="#acacac" stroke-width="4"/>
<rect x="28.9" y="367.2" width="88.7" height="83.6" rx="12" fill="url(#gSB)"/>
<text transform="translate(43.18 434.55) scale(0.632 1)" font-family="Liberation Sans" font-weight="bold" font-size="72.14" fill="#ffffff" stroke="#ffffff" stroke-width="0.8">SB</text>
<rect x="20.1" y="476.0" width="106.5" height="100.7" rx="15" fill="#fff" stroke="#acacac" stroke-width="4"/>
<rect x="28.9" y="484.3" width="88.7" height="84.1" rx="12" fill="url(#gBL)"/>
<text transform="translate(42.67 550.07) scale(0.655 1)" font-family="Liberation Sans" font-weight="bold" font-size="73.51" fill="#ffffff" stroke="#ffffff" stroke-width="0.8">BL</text>
<rect x="20.1" y="592.7" width="106.5" height="101.5" rx="15" fill="#fff" stroke="#acacac" stroke-width="4"/>
<rect x="28.9" y="601.4" width="88.7" height="84.1" rx="12" fill="url(#gWH)"/>
<text transform="translate(32.85 667.27) scale(0.703 1)" font-family="Liberation Sans" font-weight="bold" font-size="73.65" fill="#808080" stroke="#808080" stroke-width="0.8">WH</text>
<path d="M74.5 343V358.6M74.5 460.4V476.4M74.5 577.8V593.8" stroke="#c9252c" stroke-width="1.6"/>
<path d="M128.6 644.8L413 644.6" stroke="#d22a32" stroke-width="1.8"/>
<circle cx="413" cy="644.6" r="3.6" fill="#d22a32"/>
<circle cx="157" cy="1028" r="142" fill="#fff"/>
<g clip-path="url(#cc)">
<rect x="200.7" y="880" width="110" height="300" fill="#d9dadb"/>
<path d="M173 891L161 939.4M112.1 897.8V1160.2M112.1 897.8H169.5M112.1 1160.2H178.4M134.6 1079.5V1084.4H155L182.4 1166M134.6 964.8V978M134.6 964.8H155" fill="none" stroke="#6f6f6f" stroke-width="1.4"/>
<path d="M200.7 880V1180" stroke="#bdbdbd" stroke-width="1"/>
</g>
<circle cx="157" cy="1028" r="142" fill="none" stroke="#1c1c1c" stroke-width="4"/>
<path d="M142.8 950.7A77 77 0 0 0 158.9 1103.8" fill="none" stroke="#231f20" stroke-width="18.5"/>
<path d="M136.8 927.3L182.4 944L142.2 970.2Z" fill="#231f20"/>
<path d="M142.9 976.6L145.6 976.5L148.3 976.8L151.0 977.5L153.6 978.7L156.0 980.2L158.3 981.9L160.4 983.8L162.3 985.8L164.1 987.7L165.8 989.5L167.4 991.1L169.2 992.4L171.2 993.0L173.4 993.4L175.9 993.7L178.5 994.0L181.2 994.4L184.0 995.0L186.7 995.8L189.4 996.9L191.8 998.3L194.0 1000.1L195.9 1002.1L197.3 1004.4L198.3 1006.9L198.9 1009.6L199.0 1012.4L198.7 1015.2L198.0 1018.0L197.1 1020.7L195.9 1023.3L194.6 1025.7L193.3 1028.0L192.1 1030.2L191.2 1032.2L190.5 1034.3L190.5 1036.4L190.8 1038.7L191.3 1041.1L191.8 1043.7L192.3 1046.4L192.6 1049.2L192.7 1052.0L192.4 1054.9L191.8 1057.7L190.9 1060.3L189.5 1062.7L187.8 1064.8L185.7 1066.5L183.3 1067.9L180.7 1068.8L177.9 1069.4L175.0 1069.7L172.2 1069.6L169.4 1069.3L166.7 1068.8L164.1 1068.3L161.7 1067.8L159.4 1067.5L157.3 1067.5L155.2 1068.2L153.2 1069.1L151.0 1070.3L148.7 1071.6L146.3 1072.9L143.7 1074.1L141.0 1075.0L138.2 1075.7L135.4 1076.0L132.6 1075.9L129.9 1075.3L127.4 1074.3L125.1 1072.9L123.1 1071.0L121.3 1068.8L119.9 1066.4L118.8 1063.7L118.0 1061.0L117.4 1058.2L117.0 1055.5L116.7 1052.9L116.4 1050.4L116.0 1048.2L115.4 1046.2L114.1 1044.4L112.5 1042.8L110.7 1041.1L108.8 1039.3L106.8 1037.4L104.9 1035.3L103.2 1033.0L101.7 1030.6L100.5 1028.0L99.8 1025.3L99.5 1022.6L99.6 1019.9L100.3 1017.2L101.4 1014.7L103.0 1012.4L104.9 1010.3L107.1 1008.4L109.4 1006.8L111.9 1005.4L114.4 1004.2L116.7 1003.1L119.0 1002.1L121.0 1001.0L122.7 999.7L124.0 998.0L125.1 996.0L126.1 993.7L127.2 991.4L128.4 988.9L129.8 986.4L131.4 984.1L133.3 981.9L135.4 980.0L137.7 978.4L140.2 977.3Z" fill="#3b3b3d" stroke="#1e1e1e" stroke-width="1"/>
<circle cx="151" cy="1027.9" r="25.8" fill="#333335" stroke="#fff" stroke-width="1.7"/>
<path d="M590.6 1255.5H1058.5M970.8 1283.5H1058.5" stroke="#c9252c" stroke-width="3"/>
<path d="M437.0 1185.0L574.0 1259.5L611.0 1305.0" fill="none" stroke="#3a3a3a" stroke-width="8" stroke-linejoin="round"/><path d="M437.0 1185.0L574.0 1259.5L611.0 1305.0" fill="none" stroke="#eeeeee" stroke-width="5.6" stroke-linejoin="round"/><path d="M428.4 1096.0L439.0 1097.5L441.0 1188.0L429.0 1188.5Z" fill="#ececec" stroke="#3a3a3a" stroke-width="1.2"/><path d="M438.5 1098.0L439.0 1187.0" stroke="#999" stroke-width="1"/><circle cx="434.2" cy="1115.4" r="1.5" fill="#555"/><circle cx="434.7" cy="1158.4" r="1.5" fill="#555"/>
<path d="M793.0 1183.0L930.0 1257.5L967.0 1303.0" fill="none" stroke="#3a3a3a" stroke-width="8" stroke-linejoin="round"/><path d="M793.0 1183.0L930.0 1257.5L967.0 1303.0" fill="none" stroke="#eeeeee" stroke-width="5.6" stroke-linejoin="round"/><path d="M784.4 1094.0L795.0 1095.5L797.0 1186.0L785.0 1186.5Z" fill="#ececec" stroke="#3a3a3a" stroke-width="1.2"/><path d="M794.5 1096.0L795.0 1185.0" stroke="#999" stroke-width="1"/><circle cx="790.2" cy="1113.4" r="1.5" fill="#555"/><circle cx="790.7" cy="1156.4" r="1.5" fill="#555"/>
<path d="M632.7 1102.3H597.3A8.5 8.5 0 0 0 588.8 1110.8V1181.6A8.5 8.5 0 0 0 597.3 1190.1H632.7Z" fill="#fff" stroke="#8a8a8a" stroke-width="1"/>
<path d="M632.7 1101.8H668.3A9 9 0 0 1 677.3 1110.8V1181.6A9 9 0 0 1 668.3 1190.6H632.7Z" fill="#d8232a"/>
<path d="M594.3 1146.5L618.2 1113.5V1131.7H632.7V1164.9H618.2V1181.3Z" fill="#d8232a"/>
<path d="M670.8 1147.4L645 1112.3V1131.7H632.7V1164.9H645V1181.3Z" fill="#fff"/>
<text transform="translate(1081.02 1234.95) scale(1.155 1)" font-family="Liberation Sans" font-size="34.55" fill="#c62430" stroke="#c62430" stroke-width="1.1">Optional assembly</text>
<text transform="translate(1080.97 1282.74) scale(1.168 1)" font-family="Liberation Sans" font-size="35.09" fill="#c62430" stroke="#c62430" stroke-width="1.1">Optionale Montage</text>
<text transform="translate(1080.66 1330.87) scale(1.152 1)" font-family="Liberation Sans" font-size="35.41" fill="#c62430" stroke="#c62430" stroke-width="1.1">Montaż opcjonalny</text>
<text transform="translate(637.60 48.90) scale(0.922 1)" font-family="Liberation Sans" font-weight="bold" font-size="55.95" fill="#231f20">5</text>
<circle cx="676.6" cy="44.2" r="4.7" fill="#231f20"/>
<text transform="translate(929.66 493.06) scale(0.970 1)" font-family="Liberation Sans" font-weight="bold" font-size="57.64" fill="#231f20">4</text>
<circle cx="970.1" cy="487.1" r="4.7" fill="#231f20"/>
<text transform="translate(634.71 794.97) scale(0.973 1)" font-family="Liberation Sans" font-weight="bold" font-size="53.25" fill="#231f20">3</text>
<circle cx="673.9" cy="790.6" r="4.7" fill="#231f20"/>
<text transform="translate(1036.50 997.75) scale(1.016 1)" font-family="Liberation Sans" font-weight="bold" font-size="54.88" fill="#231f20">7</text>
<circle cx="1075.9" cy="992.7" r="4.7" fill="#231f20"/>
<text transform="translate(61.06 885.01) scale(1.071 1)" font-family="Liberation Sans" font-weight="bold" font-size="54.03" fill="#231f20">6</text>
<circle cx="100.5" cy="880.5" r="4.7" fill="#231f20"/>
<text transform="translate(357.18 1175.96) scale(0.998 1)" font-family="Liberation Sans" font-weight="bold" font-size="55.09" fill="#231f20">2</text>
<circle cx="396.8" cy="1170.9" r="4.7" fill="#231f20"/>
<path d="M1000 763.6H1008V801.6H1000V770.9L992.3 773.6L991.4 768.6Z" fill="#231f20"/>
<circle cx="1026.1" cy="796.6" r="4.7" fill="#231f20"/>
<path d="M658.2 925.7H666.8V964.3H658.2V933.2L650.5 935.5L649.3 930.5Z" fill="#231f20"/>
<circle cx="684.8" cy="959.1" r="4.7" fill="#231f20"/>
</svg>
</body></html>
